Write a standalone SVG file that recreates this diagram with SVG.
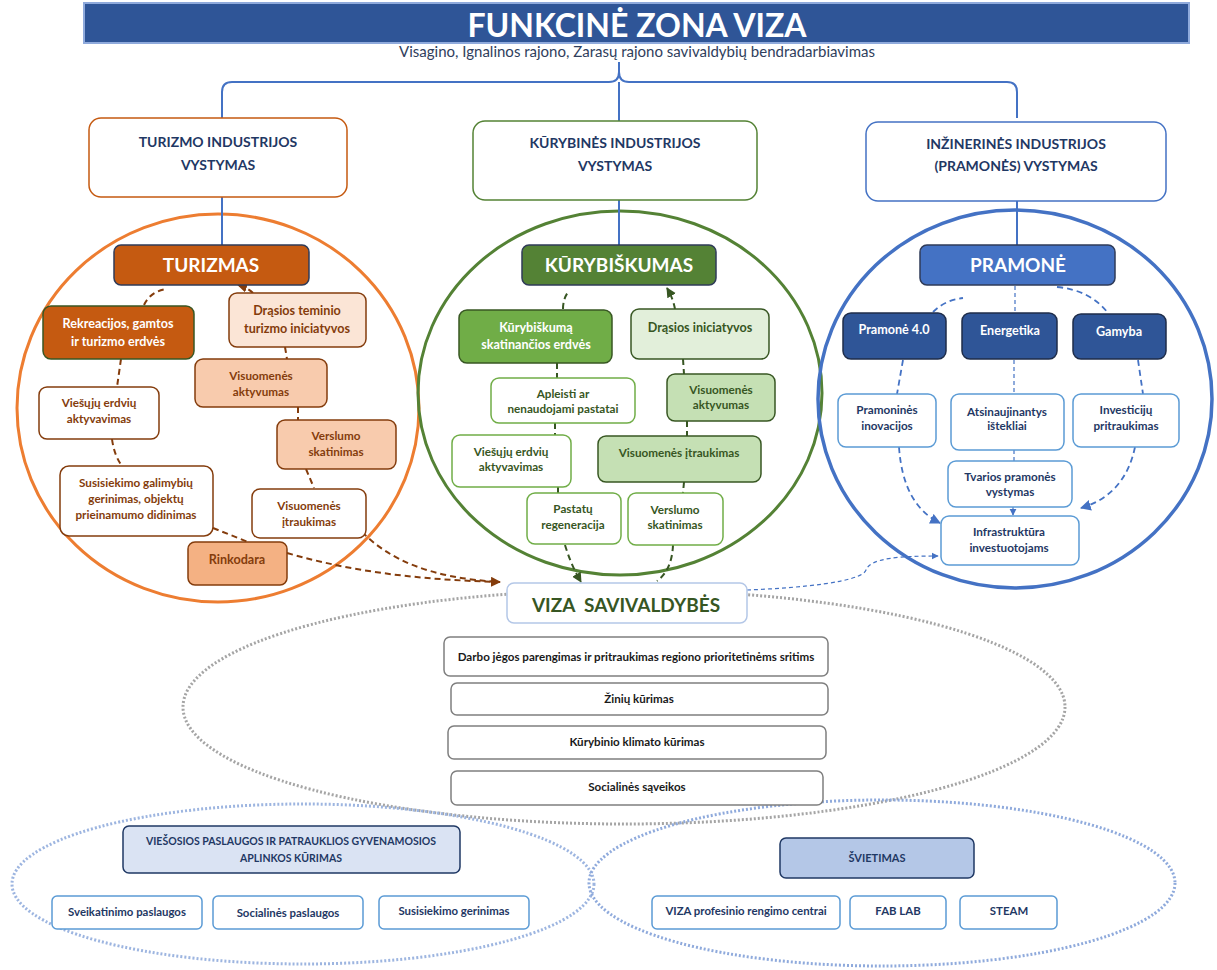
<svg xmlns="http://www.w3.org/2000/svg" width="1217" height="970" viewBox="0 0 1217 970">
<defs>
<style>
.t{font-family:Lato,"Liberation Sans",sans-serif;font-weight:bold;text-anchor:middle}
.w{fill:#ffffff}
.br{fill:#843C0C}
.gr{fill:#375623}
.nv{fill:#1F3864}
.bk{fill:#1a1a1a}
.hd{font-size:14px}
.big{font-size:19px}
.n{font-size:12.6px}
.s{font-size:11.7px}
.b{font-size:11.4px}
.cb{fill:none;stroke:#843C0C;stroke-width:2;stroke-dasharray:6 4}
.cg{fill:none;stroke:#375623;stroke-width:2;stroke-dasharray:6 4}
.cl{fill:none;stroke:#4472C4;stroke-width:1.8;stroke-dasharray:6 4}
.clt{fill:none;stroke:#4472C4;stroke-width:1.2;stroke-dasharray:4 3}
.hl{fill:none;stroke:#4472C4;stroke-width:2}
</style>
<marker id="ab" viewBox="0 0 10 10" refX="9" refY="5" markerWidth="5" markerHeight="5" orient="auto" markerUnits="strokeWidth"><path d="M0,0 L10,5 L0,10 z" fill="#843C0C"/></marker>
<marker id="ag" viewBox="0 0 10 10" refX="9" refY="5" markerWidth="5" markerHeight="5" orient="auto" markerUnits="strokeWidth"><path d="M0,0 L10,5 L0,10 z" fill="#375623"/></marker>
<marker id="al" viewBox="0 0 10 10" refX="9" refY="5" markerWidth="6" markerHeight="6" orient="auto" markerUnits="strokeWidth"><path d="M0,0 L10,5 L0,10 z" fill="#4472C4"/></marker>
</defs>
<rect width="1217" height="970" fill="#ffffff"/>

<g id="title">
<rect x="84" y="3" width="1105" height="40" fill="#2F5597" stroke="#8FAADC" stroke-width="2"/>
<text class="t w" x="637" y="37" font-size="32">FUNKCINĖ ZONA VIZA</text>
<text x="637" y="57" font-family="Lato,'Liberation Sans',sans-serif" font-size="15" fill="#2F3E5C" text-anchor="middle">Visagino, Ignalinos rajono, Zarasų rajono savivaldybių bendradarbiavimas</text>
</g>

<g id="zones">
<ellipse cx="218" cy="408" rx="201" ry="194" fill="none" stroke="#ED7D31" stroke-width="3"/>
<ellipse cx="620" cy="393" rx="202" ry="182" fill="none" stroke="#548235" stroke-width="3"/>
<ellipse cx="1015" cy="399" rx="197" ry="189" fill="none" stroke="#4472C4" stroke-width="3.5"/>
<ellipse cx="624" cy="707" rx="441" ry="117" fill="none" stroke="#A5A5A5" stroke-width="3" stroke-dasharray="2 2"/>
<ellipse cx="303" cy="884" rx="291" ry="80" fill="none" stroke="#9DB5E0" stroke-width="3" stroke-dasharray="2 2"/>
<ellipse cx="882" cy="883" rx="293" ry="83" fill="none" stroke="#8FAADC" stroke-width="3" stroke-dasharray="2 2"/>
</g>

<g id="connectors">
<path class="hl" d="M222,118 L222,92 Q222,82 232,82 L609,82 Q619,82 619,72 L619,62 M619,72 Q619,82 629,82 L1007,82 Q1017,82 1017,92 L1017,118 M619,82 L619,121"/>
<path class="hl" d="M222,197 L222,245 M619,200 L619,245 M1017,201 L1017,245"/>
<path class="cb" d="M144,305 Q150,292 166,289"/>
<path class="cb" d="M253,293 Q248,288 238,285" marker-end="url(#ab)"/>
<path class="cb" d="M121,359 L117,387"/>
<path class="cb" d="M285,347 L287,359"/>
<path class="cb" d="M298,407 L298,420"/>
<path class="cb" d="M112,439 Q114,455 122,466"/>
<path class="cb" d="M306,469 L314,488"/>
<path class="cb" d="M213,528 L248,542"/>
<path class="cb" d="M287,553 C360,574 430,580 500,582" marker-end="url(#ab)"/>
<path class="cb" d="M362,532 C390,560 430,578 500,582"/>
<path class="cg" d="M563,309 Q563,298 569,291"/>
<path class="cg" d="M675,309 Q673,298 667,288" marker-end="url(#ag)"/>
<path class="cg" d="M557,363 L557,378"/>
<path class="cg" d="M683,359 L684,374"/>
<path class="cg" d="M555,423 L555,435"/>
<path class="cg" d="M687,421 L687,436"/>
<path class="cg" d="M558,487 L558,493"/>
<path class="cg" d="M684,482 L683,493"/>
<path class="cg" d="M565,545 Q571,565 581,582" marker-end="url(#ag)"/>
<path class="cg" d="M673,545 Q672,570 657,581"/>
<path class="clt" d="M1015,286 L1015,313"/>
<path class="cl" d="M933,312 Q945,300 963,298"/>
<path class="cl" d="M1057,287 Q1090,290 1108,313"/>
<path class="cl" d="M903,360 L897,394"/>
<path class="clt" d="M1014,360 L1014,394"/>
<path class="cl" d="M1138,360 L1143,394"/>
<path class="cl" d="M899,447 Q903,505 940,523" marker-end="url(#al)"/>
<path class="clt" d="M1014,450 L1014,461"/>
<path class="clt" d="M1013,507 L1013,515" marker-end="url(#al)"/>
<path class="cl" d="M1135,447 Q1125,495 1081,508" marker-end="url(#al)"/>
<path class="clt" d="M747,590 C800,588 862,582 866,570 C870,558 900,556 938,556" marker-end="url(#al)"/>
</g>

<g id="top-turizmo"><rect x="89" y="118" width="258" height="79" rx="12" fill="#fff" stroke="#C55A11" stroke-width="1.5"/><text class="t nv hd" x="218" y="147">TURIZMO INDUSTRIJOS</text><text class="t nv hd" x="218" y="170">VYSTYMAS</text></g>
<g id="top-kurybines"><rect x="473" y="121" width="284" height="79" rx="12" fill="#fff" stroke="#548235" stroke-width="1.5"/><text class="t nv hd" x="615" y="148">KŪRYBINĖS INDUSTRIJOS</text><text class="t nv hd" x="615" y="171">VYSTYMAS</text></g>
<g id="top-inzinerines"><rect x="866" y="122" width="300" height="79" rx="12" fill="#fff" stroke="#4472C4" stroke-width="1.5"/><text class="t nv hd" x="1016" y="149">INŽINERINĖS INDUSTRIJOS</text><text class="t nv hd" x="1016" y="171">(PRAMONĖS) VYSTYMAS</text></g>

<g id="turizmas"><rect x="114" y="245" width="195" height="40" rx="7" fill="#C55A11" stroke="#2F3B58" stroke-width="1.5"/><text class="t w big" x="211" y="272">TURIZMAS</text></g>
<g id="rekreacijos"><rect x="43" y="306" width="151" height="53" rx="8" fill="#C55A11" stroke="#385723" stroke-width="1.5"/><text class="t w n" x="118" y="328">Rekreacijos, gamtos</text><text class="t w n" x="118" y="346">ir turizmo erdvės</text></g>
<g id="drasios-teminio"><rect x="229" y="293" width="137" height="54" rx="8" fill="#FBE5D6" stroke="#843C0C" stroke-width="1.5"/><text class="t br n" x="297" y="315">Drąsios teminio</text><text class="t br n" x="297" y="333">turizmo iniciatyvos</text></g>
<g id="t-visuomenes-aktyvumas"><rect x="195" y="359" width="132" height="48" rx="8" fill="#F8CBAD" stroke="#843C0C" stroke-width="1.5"/><text class="t br s" x="261" y="380">Visuomenės</text><text class="t br s" x="261" y="396">aktyvumas</text></g>
<g id="t-viesuju"><rect x="39" y="387" width="120" height="52" rx="8" fill="#fff" stroke="#843C0C" stroke-width="1.5"/><text class="t br s" x="99" y="407">Viešųjų erdvių</text><text class="t br s" x="99" y="423">aktyvavimas</text></g>
<g id="t-verslumo"><rect x="277" y="420" width="119" height="49" rx="8" fill="#F8CBAD" stroke="#843C0C" stroke-width="1.5"/><text class="t br s" x="336" y="440">Verslumo</text><text class="t br s" x="336" y="456">skatinimas</text></g>
<g id="t-susisiekimo"><rect x="60" y="466" width="153" height="70" rx="9" fill="#fff" stroke="#843C0C" stroke-width="1.5"/><text class="t br s" x="136" y="487">Susisiekimo galimybių</text><text class="t br s" x="136" y="503">gerinimas, objektų</text><text class="t br s" x="136" y="519">prieinamumo didinimas</text></g>
<g id="t-itraukimas"><rect x="252" y="489" width="114" height="49" rx="8" fill="#fff" stroke="#843C0C" stroke-width="1.5"/><text class="t br s" x="309" y="510">Visuomenės</text><text class="t br s" x="309" y="526">įtraukimas</text></g>
<g id="t-rinkodara"><rect x="188" y="542" width="99" height="43" rx="7" fill="#F4B183" stroke="#843C0C" stroke-width="1.5"/><text class="t br n" x="237" y="564">Rinkodara</text></g>

<g id="kurybiskumas"><rect x="522" y="245" width="194" height="40" rx="7" fill="#548235" stroke="#2F3B58" stroke-width="1.5"/><text class="t w big" x="619" y="272">KŪRYBIŠKUMAS</text></g>
<g id="k-erdves"><rect x="459" y="310" width="153" height="53" rx="8" fill="#70AD47" stroke="#385723" stroke-width="1.5"/><text class="t w n" x="536" y="332">Kūrybiškumą</text><text class="t w n" x="536" y="349">skatinančios erdvės</text></g>
<g id="k-drasios"><rect x="631" y="309" width="138" height="50" rx="8" fill="#E2EFDA" stroke="#385723" stroke-width="1.5"/><text class="t gr n" x="700" y="332">Drąsios iniciatyvos</text></g>
<g id="k-apleisti"><rect x="491" y="378" width="144" height="45" rx="8" fill="#fff" stroke="#70AD47" stroke-width="1.5"/><text class="t gr s" x="563" y="398">Apleisti ar</text><text class="t gr s" x="563" y="413">nenaudojami pastatai</text></g>
<g id="k-aktyvumas"><rect x="667" y="374" width="108" height="47" rx="8" fill="#C5E0B4" stroke="#385723" stroke-width="1.5"/><text class="t gr s" x="721" y="394">Visuomenės</text><text class="t gr s" x="721" y="409">aktyvumas</text></g>
<g id="k-viesuju"><rect x="452" y="435" width="119" height="52" rx="8" fill="#fff" stroke="#70AD47" stroke-width="1.5"/><text class="t gr s" x="511" y="456">Viešųjų erdvių</text><text class="t gr s" x="511" y="471">aktyvavimas</text></g>
<g id="k-itraukimas"><rect x="598" y="436" width="163" height="46" rx="8" fill="#C5E0B4" stroke="#385723" stroke-width="1.5"/><text class="t gr s" x="679" y="457">Visuomenės įtraukimas</text></g>
<g id="k-pastatu"><rect x="527" y="493" width="94" height="51" rx="8" fill="#fff" stroke="#70AD47" stroke-width="1.5"/><text class="t gr s" x="573" y="513">Pastatų</text><text class="t gr s" x="573" y="529">regeneracija</text></g>
<g id="k-verslumo"><rect x="628" y="493" width="95" height="52" rx="8" fill="#fff" stroke="#70AD47" stroke-width="1.5"/><text class="t gr s" x="675" y="514">Verslumo</text><text class="t gr s" x="675" y="529">skatinimas</text></g>

<g id="pramone"><rect x="920" y="245" width="195" height="40" rx="7" fill="#4472C4" stroke="#2F3B58" stroke-width="1.5"/><text class="t w big" x="1018" y="272">PRAMONĖ</text></g>
<g id="p-40"><rect x="843" y="313" width="103" height="46" rx="8" fill="#2F5597" stroke="#1F2D4A" stroke-width="1.5"/><text class="t w n" x="894" y="334">Pramonė 4.0</text></g>
<g id="p-energetika"><rect x="962" y="313" width="95" height="46" rx="8" fill="#2F5597" stroke="#1F2D4A" stroke-width="1.5"/><text class="t w n" x="1010" y="335">Energetika</text></g>
<g id="p-gamyba"><rect x="1073" y="314" width="93" height="45" rx="8" fill="#2F5597" stroke="#1F2D4A" stroke-width="1.5"/><text class="t w n" x="1119" y="336">Gamyba</text></g>
<g id="p-inovacijos"><rect x="838" y="394" width="98" height="53" rx="8" fill="#fff" stroke="#5B9BD5" stroke-width="1.5"/><text class="t nv s" x="887" y="414">Pramoninės</text><text class="t nv s" x="887" y="430">inovacijos</text></g>
<g id="p-istekliai"><rect x="951" y="394" width="113" height="56" rx="8" fill="#fff" stroke="#5B9BD5" stroke-width="1.5"/><text class="t nv s" x="1007" y="416">Atsinaujinantys</text><text class="t nv s" x="1007" y="430">ištekliai</text></g>
<g id="p-investiciju"><rect x="1073" y="394" width="106" height="53" rx="8" fill="#fff" stroke="#5B9BD5" stroke-width="1.5"/><text class="t nv s" x="1126" y="414">Investicijų</text><text class="t nv s" x="1126" y="430">pritraukimas</text></g>
<g id="p-tvarios"><rect x="948" y="461" width="124" height="46" rx="8" fill="#fff" stroke="#5B9BD5" stroke-width="1.5"/><text class="t nv s" x="1010" y="481">Tvarios pramonės</text><text class="t nv s" x="1010" y="496">vystymas</text></g>
<g id="p-infrastruktura"><rect x="941" y="516" width="138" height="49" rx="8" fill="#fff" stroke="#5B9BD5" stroke-width="1.5"/><text class="t nv s" x="1009" y="536">Infrastruktūra</text><text class="t nv s" x="1009" y="552">investuotojams</text></g>

<g id="viza"><rect x="507" y="583" width="240" height="40" rx="7" fill="#fff" stroke="#B4C7E7" stroke-width="1.5"/><text class="t gr" x="626" y="612" font-size="19" style="white-space:pre">VIZA  SAVIVALDYBĖS</text></g>
<g id="v-darbo"><rect x="444" y="637" width="384" height="39" rx="6" fill="#fff" stroke="#7F7F7F" stroke-width="1.5"/><text class="t bk" x="636" y="661" font-size="11.6">Darbo jėgos parengimas ir pritraukimas regiono prioritetinėms sritims</text></g>
<g id="v-ziniu"><rect x="451" y="683" width="377" height="32" rx="6" fill="#fff" stroke="#7F7F7F" stroke-width="1.5"/><text class="t bk" x="639" y="703" font-size="11.6">Žinių kūrimas</text></g>
<g id="v-kurybinio"><rect x="448" y="726" width="378" height="33" rx="6" fill="#fff" stroke="#7F7F7F" stroke-width="1.5"/><text class="t bk" x="637" y="746" font-size="11.6">Kūrybinio klimato kūrimas</text></g>
<g id="v-socialines"><rect x="451" y="771" width="372" height="34" rx="6" fill="#fff" stroke="#7F7F7F" stroke-width="1.5"/><text class="t bk" x="637" y="791" font-size="11.6">Socialinės sąveikos</text></g>

<g id="viesosios"><rect x="123" y="826" width="337" height="47" rx="6" fill="#DAE3F3" stroke="#1F3864" stroke-width="1.5"/><text class="t nv" x="291" y="845" font-size="10.5">VIEŠOSIOS PASLAUGOS IR PATRAUKLIOS GYVENAMOSIOS</text><text class="t nv" x="291" y="862" font-size="10.5">APLINKOS KŪRIMAS</text></g>
<g id="svietimas"><rect x="780" y="838" width="194" height="40" rx="6" fill="#B4C7E7" stroke="#1F3864" stroke-width="1.5"/><text class="t nv" x="877" y="862" font-size="11">ŠVIETIMAS</text></g>
<g id="b-sveikatinimo"><rect x="52" y="896" width="150" height="33" rx="5" fill="#fff" stroke="#5B9BD5" stroke-width="1.5"/><text class="t nv b" x="127" y="916">Sveikatinimo paslaugos</text></g>
<g id="b-socialines"><rect x="213" y="896" width="150" height="33" rx="5" fill="#fff" stroke="#5B9BD5" stroke-width="1.5"/><text class="t nv b" x="288" y="917">Socialinės paslaugos</text></g>
<g id="b-susisiekimo"><rect x="379" y="896" width="150" height="33" rx="5" fill="#fff" stroke="#5B9BD5" stroke-width="1.5"/><text class="t nv b" x="454" y="915">Susisiekimo gerinimas</text></g>
<g id="b-viza-centrai"><rect x="652" y="896" width="188" height="33" rx="5" fill="#fff" stroke="#5B9BD5" stroke-width="1.5"/><text class="t nv b" x="746" y="915">VIZA profesinio rengimo centrai</text></g>
<g id="b-fablab"><rect x="850" y="896" width="96" height="33" rx="5" fill="#fff" stroke="#5B9BD5" stroke-width="1.5"/><text class="t nv b" x="898" y="915">FAB LAB</text></g>
<g id="b-steam"><rect x="960" y="896" width="97" height="33" rx="5" fill="#fff" stroke="#5B9BD5" stroke-width="1.5"/><text class="t nv b" x="1009" y="915">STEAM</text></g>
</svg>
